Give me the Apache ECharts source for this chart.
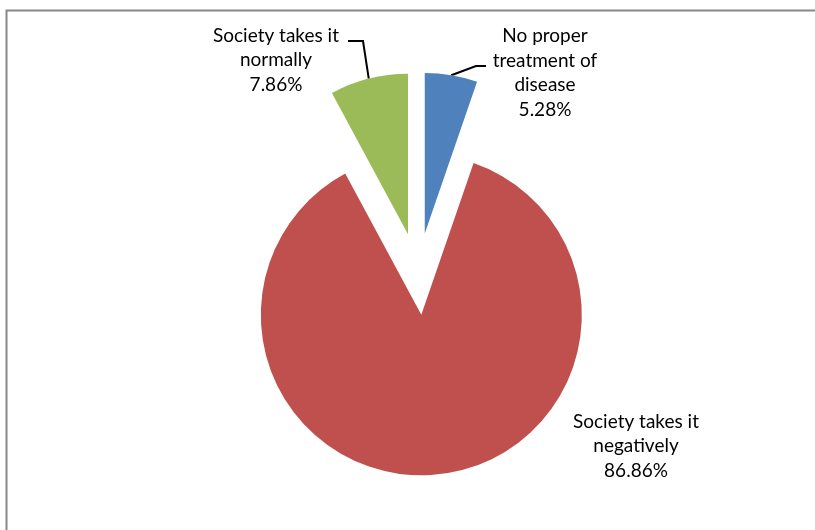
<!DOCTYPE html>
<html>
<head>
<meta charset="utf-8">
<script src="https://cdn.jsdelivr.net/npm/echarts@6/dist/echarts.min.js"></script>
<style>
  html, body { margin: 0; padding: 0; background: #fff; }
  #chart { width: 815px; height: 530px; }
</style>
</head>
<body>
<div id="chart"></div>
<script>
// ---- data ----
const categories = ['No proper\ntreatment of\ndisease', 'Society takes it\nnegatively', 'Society takes it\nnormally'];
const values = [5.28, 86.86, 7.86];
const percentLabels = ['5.28%', '86.86%', '7.86%'];
const colors = ['#4F81BD', '#C0504D', '#9BBB59'];

// label placement (label text centre) and leader line bends
const labelPos = [[545, 73], [636, 446], [276, 60]];
const leaderBends = [[[476, 66], [486, 66]], null, [[363, 41], [348, 41]]];

const CENTER = [418, 274];
const RADIUS = 160.5;
const OFFSET = 41;

const chart = echarts.init(document.getElementById('chart'), null, { renderer: 'canvas' });

const pieData = categories.map((c, i) => ({
  name: c,
  value: values[i],
  selected: true,
  itemStyle: { color: colors[i] }
}));

const labelData = categories.map((c, i) => ({
  name: c,
  value: values[i],
  labelLine: { show: leaderBends[i] !== null }
}));

chart.setOption({
  animation: false,
  backgroundColor: '#ffffff',
  graphic: [{
    type: 'rect',
    shape: { x: 6.5, y: 10.5, width: 1000, height: 1000 },
    style: { fill: 'none', stroke: '#888888', lineWidth: 2 },
    silent: true
  }],
  series: [{
    type: 'pie',
    center: CENTER,
    radius: RADIUS,
    startAngle: 90,
    clockwise: true,
    selectedMode: 'multiple',
    selectedOffset: OFFSET,
    data: pieData,
    silent: true,
    label: { show: false },
    labelLine: { show: false }
  }, {
    type: 'pie',
    center: CENTER,
    radius: RADIUS,
    startAngle: 90,
    clockwise: true,
    selectedMode: false,
    avoidLabelOverlap: false,
    silent: true,
    data: labelData,
    itemStyle: { color: 'rgba(0,0,0,0)' },
    label: {
      show: true,
      position: 'outside',
      fontFamily: 'Lato',
      fontSize: 19,
      lineHeight: 24.5,
      color: '#000000',
      formatter: (p) => p.name + '\n' + percentLabels[p.dataIndex]
    },
    labelLine: {
      show: true,
      length: 12,
      length2: 20,
      lineStyle: { color: '#000000', width: 2 }
    },
    labelLayout: function (params) {
      const i = params.dataIndex;
      const out = {
        x: labelPos[i][0],
        y: labelPos[i][1],
        align: 'center',
        verticalAlign: 'middle'
      };
      if (leaderBends[i] && params.labelLinePoints) {
        const p0 = params.labelLinePoints[0];
        const vx = p0[0] - CENTER[0], vy = p0[1] - CENTER[1];
        const len = Math.sqrt(vx * vx + vy * vy) || 1;
        const start = [p0[0] + vx / len * OFFSET, p0[1] + vy / len * OFFSET];
        out.labelLinePoints = [start, leaderBends[i][0], leaderBends[i][1]];
      }
      return out;
    }
  }]
});
</script>
</body>
</html>
